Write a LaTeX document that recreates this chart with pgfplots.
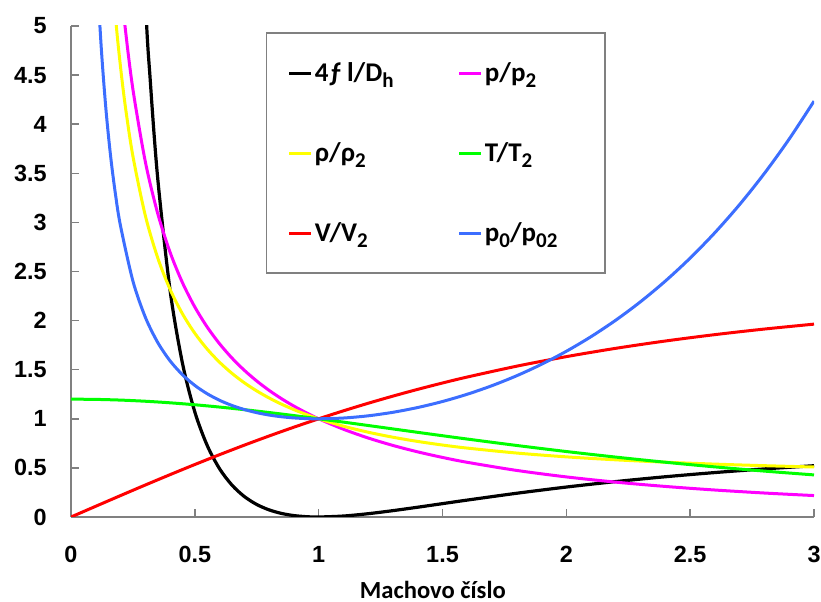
\documentclass[border=0pt]{standalone}
\usepackage{fontspec}
\usepackage{pgfplots}
\pgfplotsset{compat=1.18}
\setmainfont{Liberation Sans}
\newfontfamily\calibri{Carlito}
\newfontfamily\tickfont{Liberation Sans}
\newcommand\tl[1]{\mbox{\tickfont\bfseries\fontsize{11.7}{13}\selectfont #1}}
\newcommand\sub[1]{\raisebox{-3pt}{\fontsize{10.5}{12}\selectfont #1}}
\definecolor{cmag}{RGB}{255,0,255}
\definecolor{cyel}{RGB}{255,255,0}
\definecolor{cgrn}{RGB}{0,255,0}
\definecolor{cred}{RGB}{255,0,0}
\definecolor{cblu}{RGB}{60,110,255}
\definecolor{axgray}{RGB}{128,128,128}
\begin{document}
\begin{tikzpicture}
\begin{axis}[
  scale only axis, width=371.5pt, height=245.5pt,
  xmin=0, xmax=3, ymin=0, ymax=5,
  axis x line*=bottom, axis y line*=left,
  axis line style={-, draw=axgray, line width=0.75pt},
  major tick style={draw=axgray, line width=0.75pt},
  tick align=inside, major tick length=4pt,
  xtick={0,0.5,1,1.5,2,2.5,3}, ytick={0,0.5,1,1.5,2,2.5,3,3.5,4,4.5,5},
  xticklabels={{\tl{0}},{\tl{0.5}},{\tl{1}},{\tl{1.5}},{\tl{2}},{\tl{2.5}},{\tl{3}}},
  yticklabels={{\tl{0}},{\tl{0.5}},{\tl{1}},{\tl{1.5}},{\tl{2}},{\tl{2.5}},{\tl{3}},{\tl{3.5}},{\tl{4}},{\tl{4.5}},{\tl{5}}},
  xticklabel style={anchor=center, yshift=-18.75pt},
  yticklabel style={anchor=east, inner sep=0pt, xshift=-12pt},
  xlabel={Machovo číslo},
  xlabel style={at={(axis description cs:0.487,0)}, anchor=base, yshift=-40.5pt, font=\calibri\bfseries\fontsize{12.3}{14}\selectfont},
  legend columns=2,
  legend image code/.code={\draw[#1] (0pt,0pt) -- (11pt,0pt);},
  legend style={at={(0.2624,0.9868)}, anchor=north west, draw=axgray, line width=0.75pt,
    inner xsep=10.5pt, inner ysep=13.5pt, column sep=0pt, row sep=27pt,
    cells={anchor=west}, nodes={inner sep=1pt},
    font=\calibri\bfseries\fontsize{13.5}{16}\selectfont},
  every axis plot/.append style={line width=1.5pt, smooth},
]
\coordinate (ll) at (rel axis cs:0,0);
\coordinate (ur) at (rel axis cs:1,1);
% 4fl/Dh
\addplot[black, line width=1.6pt] coordinates {
(0.25,8.4834)(0.3,5.2993)(0.32,4.4467)(0.35,3.4525)(0.4,2.3085)(0.45,1.5664)(0.5,1.0691)
(0.55,0.7281)(0.6,0.4908)(0.65,0.3246)(0.7,0.2081)(0.75,0.1273)(0.8,0.0723)(0.85,0.0363)
(0.9,0.0145)(0.95,0.0033)(1.0,0)(1.1,0.0099)(1.2,0.0336)(1.3,0.0648)(1.4,0.0997)(1.5,0.1361)
(1.6,0.1723)(1.8,0.2419)(2.0,0.3050)(2.2,0.3609)(2.4,0.4099)(2.6,0.4526)(2.8,0.4898)(3.0,0.5222)};
\addlegendentry{\makebox[70.5pt][l]{4ƒ\hspace{2.5pt}l/D\sub{h}}}
% p/p2
\addplot[cmag] coordinates {
(0.18,6.0662)(0.2,5.4554)(0.22,4.9554)(0.25,4.3546)(0.3,3.6191)(0.35,3.0922)(0.4,2.6958)
(0.45,2.3865)(0.5,2.1381)(0.55,1.9341)(0.6,1.7634)(0.65,1.6183)(0.7,1.4935)(0.75,1.3848)
(0.8,1.2893)(0.85,1.2047)(0.9,1.1291)(0.95,1.0613)(1.0,1)(1.1,0.8936)(1.2,0.8044)(1.3,0.7285)
(1.4,0.6632)(1.5,0.6065)(1.6,0.5568)(1.8,0.4741)(2.0,0.4082)(2.2,0.3549)(2.4,0.3111)
(2.6,0.2747)(2.8,0.2441)(3.0,0.2182)};
\addlegendentry{\makebox[48.5pt][l]{p/p\sub{2}}}
% rho/rho2
\addplot[cyel] coordinates {
(0.15,6.0995)(0.18,5.0879)(0.2,4.5826)(0.22,4.1695)(0.25,3.6742)(0.3,3.0702)(0.35,2.6400)
(0.4,2.3184)(0.45,2.0693)(0.5,1.8708)(0.55,1.7092)(0.6,1.5753)(0.65,1.4626)(0.7,1.3665)
(0.75,1.2838)(0.8,1.2119)(0.85,1.1489)(0.9,1.0934)(0.95,1.0440)(1.0,1)(1.1,0.9249)(1.2,0.8633)
(1.3,0.8123)(1.4,0.7693)(1.5,0.7328)(1.6,0.7016)(1.8,0.6511)(2.0,0.6124)(2.2,0.5821)
(2.4,0.5580)(2.6,0.5385)(2.8,0.5225)(3.0,0.5092)};
\addlegendentry{\makebox[70.5pt][l]{ρ/ρ\sub{2}}}
% T/T2
\addplot[cgrn] coordinates {
(0,1.2)(0.1,1.1976)(0.2,1.1905)(0.3,1.1788)(0.4,1.1628)(0.5,1.1429)(0.6,1.1194)(0.7,1.0929)
(0.8,1.0638)(0.9,1.0327)(1.0,1)(1.1,0.9662)(1.2,0.9317)(1.3,0.8969)(1.4,0.8621)(1.5,0.8276)
(1.6,0.7937)(1.8,0.7282)(2.0,0.6667)(2.2,0.6098)(2.4,0.5576)(2.6,0.5102)(2.8,0.4673)(3.0,0.4286)};
\addlegendentry{\makebox[48.5pt][l]{T/T\sub{2}}}
% V/V2
\addplot[cred] coordinates {
(0,0)(0.1,0.1094)(0.2,0.2182)(0.3,0.3257)(0.4,0.4313)(0.5,0.5345)(0.6,0.6348)(0.7,0.7318)
(0.8,0.8251)(0.9,0.9146)(1.0,1)(1.1,1.0812)(1.2,1.1583)(1.3,1.2311)(1.4,1.2999)(1.5,1.3646)
(1.6,1.4254)(1.8,1.5360)(2.0,1.6330)(2.2,1.7179)(2.4,1.7922)(2.6,1.8571)(2.8,1.9140)(3.0,1.9640)};
\addlegendentry{\makebox[70.5pt][l]{V/V\sub{2}}}
% p0/p02
\addplot[cblu] coordinates {
(0.08,7.2615)(0.1,5.8218)(0.12,4.8643)(0.14,4.1824)(0.16,3.6727)(0.18,3.2779)(0.2,2.9635)
(0.25,2.4027)(0.3,2.0351)(0.35,1.7780)(0.4,1.5901)(0.45,1.4487)(0.5,1.3398)(0.55,1.2549)
(0.6,1.1882)(0.65,1.1356)(0.7,1.0944)(0.75,1.0624)(0.8,1.0382)(0.85,1.0207)(0.9,1.0089)
(0.95,1.0021)(1.0,1)(1.1,1.0079)(1.2,1.0304)(1.3,1.0663)(1.4,1.1149)(1.5,1.1762)(1.6,1.2502)
(1.7,1.3376)(1.8,1.4390)(1.9,1.5553)(2.0,1.6875)(2.1,1.8369)(2.2,2.0050)(2.3,2.1931)
(2.4,2.4031)(2.5,2.6367)(2.6,2.8960)(2.7,3.1830)(2.8,3.5001)(2.9,3.8498)(3.0,4.2346)};
\addlegendentry{\makebox[48.5pt][l]{p\sub{0}/p\sub{02}}}
\end{axis}
\pgfresetboundingbox
\path ([xshift=-35.5pt,yshift=-42.5pt]ll) rectangle ([xshift=3.5pt,yshift=13pt]ur);
\end{tikzpicture}
\end{document}
